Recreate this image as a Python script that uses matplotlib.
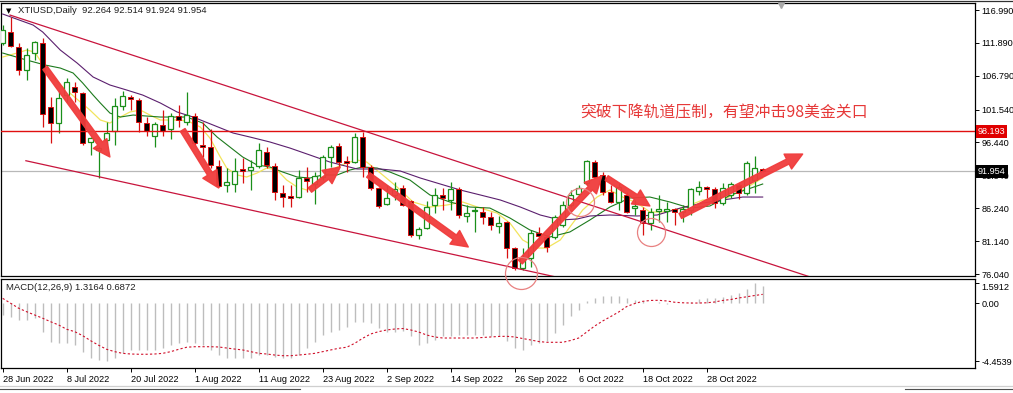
import numpy as np
import matplotlib
matplotlib.use("Agg")
import matplotlib.pyplot as plt
from matplotlib.patches import FancyArrowPatch
from matplotlib.lines import Line2D

plt.rcParams['font.family'] = ['Liberation Sans', 'DejaVu Sans']

#------------------------------------------------------------------------------------
# Daily OHLC (XTIUSD), one entry per bar, 28 Jun 2022 onwards
#------------------------------------------------------------------------------------
opens = [111.87, 113.63, 111.30, 107.68, 110.31, 111.87, 101.94, 99.46, 103.80, 105.05,
         104.12, 96.52, 95.27, 96.83, 98.23, 102.10, 103.50, 103.03, 99.46, 97.45,
         99.15, 98.54, 100.55, 99.62, 100.55, 96.05, 95.74, 92.79, 89.84, 90.00,
         92.33, 92.17, 92.79, 94.96, 92.79, 88.61, 88.14, 87.98, 90.93, 90.00,
         91.09, 94.19, 95.89, 93.57, 93.41, 97.29, 92.64, 89.38, 86.90, 88.30,
         89.38, 87.36, 82.09, 83.18, 86.74, 88.30, 87.52, 89.22, 85.04, 85.81,
         85.66, 84.88, 83.49, 84.11, 80.07, 76.97, 78.52, 82.40, 81.78, 81.78,
         83.64, 86.74, 88.45, 90.16, 93.41, 91.40, 88.76, 87.21, 88.30, 86.27,
         85.97, 83.95, 85.81, 85.81, 86.12, 85.66, 85.97, 88.92, 89.53, 89.22,
         87.05, 88.30, 89.84, 88.61, 90.62, 92.264]
highs = [114.66, 115.95, 111.87, 111.10, 112.18, 112.65, 103.50, 104.58, 106.44, 105.82,
         104.27, 97.29, 95.89, 99.62, 103.34, 104.43, 103.80, 103.34, 100.39, 99.62,
         101.48, 101.01, 102.26, 104.27, 101.01, 99.62, 98.54, 93.72, 92.48, 94.03,
         94.03, 93.72, 96.36, 95.74, 93.26, 89.84, 89.84, 92.17, 92.64, 91.86,
         94.50, 96.05, 96.36, 94.34, 97.91, 98.07, 92.95, 89.53, 89.84, 90.31,
         89.84, 87.52, 83.33, 87.36, 89.38, 89.38, 90.31, 89.53, 86.74, 86.43,
         86.43, 85.66, 85.04, 84.26, 80.23, 80.07, 82.87, 83.33, 82.09, 85.19,
         87.36, 89.07, 89.84, 93.72, 93.72, 91.86, 89.84, 90.16, 88.76, 87.52,
         86.43, 86.27, 88.30, 87.21, 86.27, 86.74, 89.38, 90.47, 89.69, 89.53,
         90.16, 90.31, 90.16, 93.57, 94.34, 92.514]
lows = [111.56, 111.30, 106.90, 106.13, 109.23, 98.84, 96.36, 97.91, 102.72, 102.72,
        96.05, 94.50, 90.86, 96.05, 96.05, 101.48, 101.48, 98.07, 97.45, 95.74,
        97.45, 96.99, 98.84, 99.15, 96.05, 94.19, 92.48, 89.53, 88.76, 88.76,
        90.16, 89.07, 92.48, 92.48, 87.52, 86.43, 86.43, 87.83, 88.76, 86.90,
        90.62, 92.64, 92.64, 91.86, 93.26, 91.09, 89.07, 86.27, 86.74, 87.52,
        86.59, 81.78, 81.47, 83.02, 85.50, 85.97, 85.97, 84.73, 84.11, 82.56,
        83.80, 82.87, 82.40, 78.52, 76.66, 76.66, 77.13, 81.32, 79.45, 81.47,
        83.33, 86.43, 88.14, 89.84, 90.93, 88.30, 87.05, 85.97, 85.50, 85.19,
        82.09, 82.87, 84.11, 84.11, 83.64, 84.11, 85.19, 88.30, 87.83, 86.27,
        86.74, 87.83, 87.67, 88.30, 88.61, 91.924]
closes = [113.89, 111.41, 107.68, 110.00, 112.03, 100.86, 99.46, 103.34, 105.82, 104.27,
          96.36, 97.14, 95.58, 97.91, 102.10, 103.65, 103.19, 99.62, 98.23, 99.31,
          98.23, 100.55, 99.93, 100.70, 96.36, 95.74, 92.95, 89.69, 90.31, 92.02,
          92.02, 92.64, 95.27, 92.95, 88.76, 87.98, 87.83, 90.93, 90.47, 91.24,
          94.19, 95.74, 93.41, 93.26, 97.29, 92.64, 89.38, 86.59, 87.83, 89.22,
          86.74, 82.09, 83.02, 86.43, 88.30, 87.83, 89.22, 85.19, 85.50, 85.97,
          84.88, 83.64, 83.95, 80.07, 76.97, 78.52, 82.40, 81.93, 80.23, 84.88,
          86.74, 88.30, 89.38, 93.57, 91.09, 88.76, 87.21, 89.53, 85.66, 86.59,
          83.95, 85.66, 86.12, 86.12, 85.66, 86.12, 89.22, 89.53, 89.22, 87.05,
          89.38, 90.00, 88.61, 93.26, 92.48, 91.954]

#------------------------------------------------------------------------------------
# Moving averages (bar position, price)
#------------------------------------------------------------------------------------
ma_fast_x = [0, 1.8, 3, 4, 4.9, 5.9, 7.2, 8.4, 9.7, 10.9, 12.2, 13.4, 14.7, 15.9, 17.2, 18.4,
             19.7, 22.2, 23.4, 24.7, 25.9, 27.2, 28, 29.3, 30.5, 31.8, 33, 34.3, 35.5, 36.8,
             38, 39.3, 40.5, 41.8, 43, 44.3, 45.5, 47.2, 49.3, 51.3, 53.4, 55.5, 57.5, 59.7,
             61.8, 63.4, 65, 66.8, 68, 69.7, 70.9, 72.5, 74.3, 75.9, 77.5, 79.3, 80.9, 82.5,
             85, 87.5, 90, 92.5, 95]
ma_fast = [109.70, 110.32, 110.78, 110.47, 108.77, 106.90, 105.36, 104.12, 102.72, 101.48,
           99.93, 99.46, 100.39, 101.17, 101.48, 100.70, 99.93, 99.93, 99.62, 98.84,
           97.14, 94.19, 92.48, 91.40, 91.09, 91.71, 92.48, 92.17, 90.62, 89.53,
           89.07, 90.16, 91.40, 92.64, 93.26, 93.72, 93.41, 91.71, 89.53, 87.21,
           86.43, 86.74, 87.21, 86.27, 85.50, 83.95, 81.32, 80.07, 80.07, 81.32,
           83.33, 85.97, 87.98, 89.07, 87.98, 87.05, 85.66, 85.66, 86.27, 87.52,
           87.52, 89.07, 90.93]
ma_mid_x = [0, 3, 5.3, 7.2, 8.8, 10, 11.3, 12.2, 13.4, 14.7, 16.3, 19.7, 23, 24, 25, 26.8,
            28.4, 30, 31.8, 33.4, 35, 36.8, 38.4, 40, 41.8, 43.4, 45, 46.8, 48.4, 50.9, 53.4,
            55.9, 58.4, 60.9, 63.4, 65.9, 68.4, 70.9, 73.4, 75.9, 78.4, 80.9, 83.4, 85.9,
            88.4, 91, 95]
ma_mid = [110.32, 109.23, 108.46, 107.99, 107.22, 105.67, 103.80, 102.57, 101.01, 100.39,
          100.70, 100.39, 100.39, 99.93, 99.46, 97.29, 95.74, 94.19, 92.95, 92.64,
          91.86, 91.09, 90.93, 91.40, 91.40, 92.17, 92.64, 92.48, 91.86, 90.62,
          88.30, 87.21, 86.43, 86.27, 84.73, 82.87, 81.78, 82.56, 84.42, 86.43,
          87.83, 87.98, 87.21, 86.27, 86.59, 88.30, 90.00]
ma_slow_x = [0, 3.8, 5.0, 7.2, 9.3, 11.3, 13.4, 15.5, 17.5, 19.7, 21.8, 23.8, 26.3, 28.8,
             30.9, 33.4, 35.9, 38.4, 40.9, 44.3, 47.2, 49.7, 52.2, 54.7, 57.2, 59.7, 62.2,
             64.7, 67.2, 69.7, 71.8, 73.4, 75.9, 79.3, 81.8, 84.7, 87.5, 90.0, 92.5, 95]
ma_slow = [116.37, 114.66, 113.58, 110.78, 108.77, 106.60, 105.36, 104.58, 103.80, 102.57,
           101.17, 100.39, 99.15, 97.91, 97.29, 96.52, 95.58, 94.50, 93.41, 92.33,
           92.33, 92.02, 90.93, 90.00, 89.07, 88.30, 87.52, 86.43, 85.19, 84.42,
           84.57, 85.04, 85.19, 85.04, 85.19, 86.27, 87.05, 87.52, 87.98, 87.98]

#------------------------------------------------------------------------------------
# MACD(12,26,9): main (histogram) and signal (dotted)
#------------------------------------------------------------------------------------
macd_main = [-0.90, -1.03, -1.28, -1.28, -1.13, -2.18, -2.95, -3.05, -3.05, -3.21,
             -3.72, -4.21, -4.35, -4.4539, -4.21, -3.82, -3.59, -3.59, -3.59, -3.59,
             -3.44, -3.21, -3.05, -2.95, -3.05, -3.21, -3.59, -3.98, -4.21, -4.21,
             -4.21, -4.21, -3.98, -3.98, -4.11, -4.21, -4.21, -3.98, -3.44, -2.95,
             -2.44, -2.18, -2.05, -1.80, -1.42, -1.42, -1.54, -1.92, -2.18, -2.18,
             -2.15, -2.54, -3.18, -3.05, -2.80, -2.52, -2.52, -2.42, -2.42, -2.42,
             -2.42, -2.52, -2.52, -2.90, -3.44, -3.57, -3.18, -3.05, -2.92, -2.28,
             -1.65, -0.98, -0.49, 0.15, 0.41, 0.54, 0.54, 0.54, 0.41, 0.28,
             0.18, 0.02, 0.08, -0.02, 0.00, 0.02, 0.10, 0.30, 0.40, 0.40,
             0.45, 0.60, 0.80, 1.10, 1.5912, 1.3164]
macd_signal = [0.38, 0.00, -0.38, -0.65, -0.90, -1.15, -1.42, -1.67, -2.00, -2.18,
               -2.49, -2.88, -3.23, -3.54, -3.72, -3.85, -3.90, -3.92, -3.92, -3.90,
               -3.85, -3.72, -3.54, -3.38, -3.34, -3.34, -3.34, -3.36, -3.44, -3.52,
               -3.59, -3.72, -3.85, -3.90, -3.98, -4.03, -4.03, -3.98, -3.92, -3.85,
               -3.72, -3.59, -3.46, -3.38, -3.08, -2.69, -2.36, -2.18, -2.05, -1.98,
               -1.94, -2.05, -2.21, -2.44, -2.59, -2.67, -2.67, -2.67, -2.67, -2.67,
               -2.63, -2.59, -2.55, -2.54, -2.59, -2.71, -2.82, -2.94, -3.00, -3.00,
               -3.00, -2.86, -2.67, -2.21, -1.75, -1.36, -1.02, -0.67, -0.25, -0.02,
               0.15, 0.22, 0.23, 0.18, 0.08, 0.04, 0.02, 0.02, 0.04, 0.10,
               0.22, 0.29, 0.41, 0.50, 0.60, 0.6872]

date_labels = ['28 Jun 2022', '8 Jul 2022', '20 Jul 2022', '1 Aug 2022', '11 Aug 2022',
               '23 Aug 2022', '2 Sep 2022', '14 Sep 2022', '26 Sep 2022', '6 Oct 2022',
               '18 Oct 2022', '28 Oct 2022']
price_ticks = [116.99, 111.89, 106.79, 101.54, 96.44, 91.34, 86.24, 81.14, 76.04]
macd_ticks = [1.5912, 0.0, -4.4539]
macd_tick_labels = ['1.5912', '0.00', '-4.4539']

resistance = 98.193
bid = 91.954

# channel lines (bar, price) anchors
upper_channel = ([0.91, 102.0], [116.21, 75.15])
lower_channel = ([2.9, 69.0], [93.61, 75.62])

# hand-drawn annotations: arrows (bar0, price0, bar1, price1), circles (bar, price)
arrows = [(5.3, 108.0, 13.4, 94.19), (22.5, 98.38, 27.0, 89.38), (38.4, 89.07, 42.2, 92.64),
          (45.7, 91.40, 58.2, 80.23), (64.7, 77.90, 74.9, 91.24), (75.5, 90.93, 80.9, 86.59),
          (84.7, 85.04, 100.0, 94.65)]
circles = [(64.8, 76.19, 32), (72.2, 87.26, 28), (81.1, 82.60, 28)]
note = '突破下降轨道压制，有望冲击98美金关口'

#------------------------------------------------------------------------------------
# Figure layout (MT4-like window)
#------------------------------------------------------------------------------------
W, H = 1013, 393
fig = plt.figure(figsize=(W / 100, H / 100), dpi=100)
fig.patch.set_facecolor('white')
ax2 = fig.add_axes([1 / W, 1 - 368 / H, 974 / W, 89 / H])
ax = fig.add_axes([1 / W, 1 - 276 / H, 974 / W, 273 / H])
ax2.patch.set_visible(False)
ax.patch.set_visible(False)

idx = np.arange(len(opens))
o = np.array(opens); c = np.array(closes); hi = np.array(highs); lo = np.array(lows)
up = c >= o

ax.set_xlim(-0.2125, 121.54)
ax.set_ylim(75.73, 118.08)
ax2.set_xlim(-0.2125, 121.54)
ax2.set_ylim(-4.977, 1.869)

# moving averages
ax.plot(ma_fast_x, ma_fast, color='#f2e45c', lw=0.9, zorder=3)
ax.plot(ma_mid_x, ma_mid, color='#1d7a1d', lw=0.8, zorder=3)
ax.plot(ma_slow_x, ma_slow, color='#5b1f6e', lw=0.8, zorder=3)

# candles
green = '#1a8f1a'
red = '#d81010'
ax.vlines(idx[up], lo[up], hi[up], color=green, lw=0.9, zorder=4)
ax.vlines(idx[~up], lo[~up], hi[~up], color=red, lw=0.9, zorder=4)
ax.bar(idx[up], c[up] - o[up], bottom=o[up], width=0.62, facecolor='white',
       edgecolor=green, linewidth=0.9, zorder=5)
ax.bar(idx[~up], c[~up] - o[~up], bottom=o[~up], width=0.62, facecolor='black',
       edgecolor=red, linewidth=0.7, zorder=5)

# horizontal levels and channel
ax.axhline(resistance, color='#e01010', lw=1.0, zorder=6)
ax.axhline(bid, color='#b8b8b8', lw=0.9, zorder=2)
ax.plot(*upper_channel, color='#c8143c', lw=0.9, zorder=6)
ax.plot(*lower_channel, color='#c8143c', lw=0.9, zorder=6)

# annotations
for x0, y0, x1, y1 in arrows:
    arr = FancyArrowPatch((x0, y0), (x1, y1),
                          arrowstyle='simple,head_length=12,head_width=12,tail_width=4',
                          mutation_scale=1, color='#f03c3c', alpha=0.95,
                          shrinkA=0, shrinkB=0, zorder=8, clip_on=False)
    ax.add_patch(arr)
for cx, cy, d in circles:
    ax.plot([cx], [cy], marker='o', markersize=d * 0.72, markerfacecolor='none',
            markeredgecolor='#e88080', markeredgewidth=0.9, zorder=9, clip_on=False)

ax.text(72.16, 101.0, note, color='#e63838', fontsize=11.4, ha='left', va='center',
        family=['Noto Sans CJK SC', 'DejaVu Sans'], zorder=9)

ax.text(0.0075, 0.9707, '\u25bc', transform=ax.transAxes, fontsize=5, color='black',
        ha='center', va='center', family='DejaVu Sans')
ax.text(0.0175, 0.9707, 'XTIUSD,Daily  92.264 92.514 91.924 91.954', transform=ax.transAxes,
        fontsize=6.8, ha='left', va='center', color='#202020')
ax.plot([0.8008], [0.9927], transform=ax.transAxes, marker='v', markersize=5,
        color='#a8a8a8', clip_on=False, zorder=10)

# price scale
ax.yaxis.tick_right()
ax.set_yticks(price_ticks)
ax.set_yticklabels(['%.3f' % v for v in price_ticks])
ax.tick_params(axis='y', direction='out', length=3, width=0.7, pad=1.5, labelsize=6.6,
               colors='black')
ax.set_xticks([])
ax.text(1.003, resistance, '98.193', transform=ax.get_yaxis_transform(), color='white',
        fontsize=6.6, ha='left', va='center', zorder=10, clip_on=False,
        bbox=dict(boxstyle='square,pad=0.2', fc='#e00000', ec='none'))
ax.text(1.003, bid, '91.954', transform=ax.get_yaxis_transform(), color='white',
        fontsize=6.6, ha='left', va='center', zorder=10, clip_on=False,
        bbox=dict(boxstyle='square,pad=0.2', fc='black', ec='none'))

# MACD panel
ax2.vlines(idx, 0, macd_main, color='#bdbdbd', lw=1.0)
ax2.plot(idx, macd_signal, color='#d0102a', lw=0.8, ls=(0, (2, 2)))
ax2.text(0.005, 0.91, 'MACD(12,26,9) 1.3164 0.6872', transform=ax2.transAxes,
         fontsize=6.8, ha='left', va='center', color='#202020')
ax2.yaxis.tick_right()
ax2.set_yticks(macd_ticks)
ax2.set_yticklabels(macd_tick_labels)
ax2.tick_params(axis='y', direction='out', length=3, width=0.7, pad=1.5, labelsize=6.6)
ax2.get_yticklabels()[0].set_va('top')
ax2.set_xticks(np.arange(0, 8 * len(date_labels), 8))
ax2.set_xticklabels(date_labels, ha='left')
ax2.tick_params(axis='x', direction='out', length=3, width=0.7, pad=2, labelsize=6.6)

for a in (ax, ax2):
    for s in a.spines.values():
        s.set_color('black')
        s.set_linewidth(0.9)

# window frame lines
fig.add_artist(Line2D([0, 1], [1 - 0.6 / H, 1 - 0.6 / H], color='#303030', lw=0.9))
fig.add_artist(Line2D([0, 1], [1 - 386 / H, 1 - 386 / H], color='#cfcfcf', lw=0.9))
fig.add_artist(Line2D([0, 300 / W], [1 - 389 / H, 1 - 389 / H], color='#505050', lw=0.8))
fig.add_artist(Line2D([905 / W, 1], [1 - 389 / H, 1 - 389 / H], color='#505050', lw=0.8))

fig.savefig('out.png', dpi=100)
